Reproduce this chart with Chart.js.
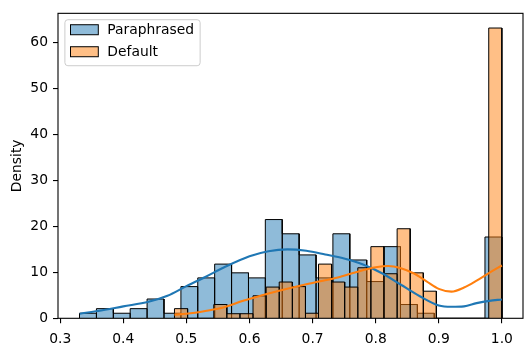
<!DOCTYPE html>
<html><head><meta charset="utf-8">
<script src="https://cdn.jsdelivr.net/npm/chart.js@4.4.0/dist/chart.umd.min.js"></script>
<style>html,body{margin:0;padding:0;background:#fff;}#wrap{width:531px;height:351px;}</style>
</head><body><div id="wrap"><canvas id="c" width="531" height="351"></canvas></div>
<script>
// ---- data ----
const seriesNames = ['Paraphrased', 'Default'];
const paraEdges = [0.3306,0.3574,0.3842,0.4109,0.4377,0.4645,0.4913,0.5180,0.5448,0.5716,0.5984,0.6251,0.6519,0.6787,0.7055,0.7322,0.7590,0.7858,0.8126,0.8393,0.8661,0.8929,0.9197,0.9464,0.9732,1.0000];
const paraHeights = [1.1,2.1,1.1,2.1,4.2,1.1,6.9,8.8,11.8,9.9,8.8,21.5,18.4,13.8,8.8,18.4,12.7,8.0,15.6,3.0,1.1,0,0,0,17.7];
const defEdges = [0.4811,0.5019,0.5226,0.5434,0.5641,0.5849,0.6056,0.6264,0.6471,0.6679,0.6887,0.7094,0.7302,0.7509,0.7717,0.7924,0.8132,0.8340,0.8547,0.8755,0.8962,0.9170,0.9377,0.9585,0.9792,1.0000];
const defHeights = [2.1,0,0,3.0,1.0,1.0,4.9,6.8,7.9,6.9,1.1,11.8,7.9,6.8,11.0,15.6,9.7,19.5,9.9,5.9,0,0,0,0,63.2];
const paraKdeX = [0.331,0.36,0.40,0.44,0.47,0.50,0.53,0.56,0.60,0.63,0.66,0.69,0.72,0.75,0.78,0.81,0.84,0.87,0.90,0.92,0.94,0.96,0.98,1.00];
const paraKdeY = [1.0,1.6,2.6,3.6,4.9,7.0,9.0,11.1,13.5,14.6,15.0,14.7,13.9,13.0,11.7,9.8,7.3,4.8,2.8,2.5,2.6,3.3,3.8,4.1];
const defKdeX = [0.481,0.50,0.53,0.56,0.59,0.62,0.65,0.68,0.71,0.74,0.77,0.80,0.82,0.84,0.86,0.88,0.90,0.92,0.94,0.96,0.98,1.00];
const defKdeY = [0.8,1.0,1.6,2.4,3.8,5.0,6.1,7.1,8.0,8.9,10.1,11.1,11.4,10.9,9.8,8.1,6.4,5.8,6.7,8.2,9.9,11.5];
const xTicks = [0.3,0.4,0.5,0.6,0.7,0.8,0.9,1.0];
const yTicks = [0,10,20,30,40,50,60];
const yLabel = 'Density';

// ---- build library structures ----
function histPoints(edges, heights) {
  const pts = [];
  for (let i = 0; i < heights.length; i++) {
    pts.push({x: edges[i], y: 0}, {x: edges[i], y: heights[i]},
             {x: edges[i + 1], y: heights[i]}, {x: edges[i + 1], y: 0});
  }
  return pts;
}
function zipXY(xs, ys) { return xs.map((x, i) => ({x: x, y: ys[i]})); }

const BLUE = '#1f77b4', ORANGE = '#ff7f0e';
const FONT = 'DejaVu Sans';
const FS = 13.89;
Chart.defaults.font.family = FONT;
Chart.defaults.font.size = FS;
Chart.defaults.color = '#000';

const spinePlugin = {
  id: 'spines',
  afterDatasetsDraw(chart) {
    const {ctx, chartArea: a} = chart;
    ctx.save();
    ctx.strokeStyle = '#000';
    ctx.lineWidth = 1.1;
    ctx.strokeRect(a.left, a.top, a.right - a.left, a.bottom - a.top);
    ctx.restore();
  }
};

const legendPlugin = {
  id: 'mplLegend',
  afterDraw(chart) {
    const {ctx, chartArea: a} = chart;
    const items = seriesNames.map(n => chart.data.datasets.find(d => d.isHist && d.label === n));
    ctx.save();
    ctx.font = FS + 'px "' + FONT + '"';
    const x0 = a.left + 6.9, y0 = a.top + 6.4;
    const rowH = 22;
    let tw = 0;
    items.forEach(d => { tw = Math.max(tw, ctx.measureText(d.label).width); });
    const textPad = 9;
    const w = 5.6 + 27.8 + textPad + tw + 6;
    const h = 46;
    const r = 3;
    ctx.beginPath();
    ctx.moveTo(x0 + r, y0);
    ctx.arcTo(x0 + w, y0, x0 + w, y0 + h, r);
    ctx.arcTo(x0 + w, y0 + h, x0, y0 + h, r);
    ctx.arcTo(x0, y0 + h, x0, y0, r);
    ctx.arcTo(x0, y0, x0 + w, y0, r);
    ctx.closePath();
    ctx.fillStyle = 'rgba(255,255,255,0.8)';
    ctx.fill();
    ctx.strokeStyle = '#cccccc';
    ctx.lineWidth = 1;
    ctx.stroke();
    items.forEach((d, i) => {
      const cy = y0 + 10 + i * rowH;
      const px = x0 + 5.6;
      ctx.fillStyle = d.backgroundColor;
      ctx.fillRect(px, cy - 5, 27.8, 10);
      ctx.strokeStyle = '#000';
      ctx.lineWidth = 1;
      ctx.strokeRect(px, cy - 5, 27.8, 10);
      ctx.fillStyle = '#000';
      ctx.textBaseline = 'middle';
      ctx.textAlign = 'left';
      ctx.fillText(d.label, px + 27.8 + textPad, cy + 1);
    });
    ctx.restore();
  }
};

const histStyle = {
  type: 'line', fill: 'origin', borderColor: '#000', borderWidth: 1,
  pointRadius: 0, tension: 0, borderJoinStyle: 'miter', isHist: true
};
const kdeStyle = {
  type: 'line', fill: false, borderWidth: 2.1, pointRadius: 0,
  cubicInterpolationMode: 'monotone'
};

new Chart(document.getElementById('c'), {
  type: 'line',
  data: {
    datasets: [
      Object.assign({}, kdeStyle, {label: seriesNames[1] + ' KDE', data: zipXY(defKdeX, defKdeY), borderColor: ORANGE, order: 0}),
      Object.assign({}, kdeStyle, {label: seriesNames[0] + ' KDE', data: zipXY(paraKdeX, paraKdeY), borderColor: BLUE, order: 1}),
      Object.assign({}, histStyle, {label: seriesNames[1], data: histPoints(defEdges, defHeights), backgroundColor: 'rgba(255,127,14,0.5)', order: 2}),
      Object.assign({}, histStyle, {label: seriesNames[0], data: histPoints(paraEdges, paraHeights), backgroundColor: 'rgba(31,119,180,0.5)', order: 3})
    ]
  },
  options: {
    responsive: false, animation: false, devicePixelRatio: 1,
    layout: {padding: {top: 10, right: 8, left: 0, bottom: 0}},
    plugins: {legend: {display: false}, tooltip: {enabled: false}},
    scales: {
      x: {
        type: 'linear', min: 0.2965, max: 1.0335,
        afterBuildTicks: s => { s.ticks = xTicks.map(v => ({value: v})); },
        afterFit: s => { s.height = 32.7; },
        ticks: {callback: v => v.toFixed(1), padding: 8, color: '#000', maxRotation: 0, autoSkip: false},
        grid: {display: true, drawOnChartArea: false, drawTicks: true, tickLength: 5, color: '#000', lineWidth: 1.1},
        border: {display: false}
      },
      y: {
        type: 'linear', min: 0, max: 66.4,
        afterBuildTicks: s => { s.ticks = yTicks.map(v => ({value: v})); },
        afterFit: s => { s.width = 58; },
        ticks: {callback: v => String(v), padding: 5, color: '#000'},
        grid: {display: true, drawOnChartArea: false, drawTicks: true, tickLength: 5, color: '#000', lineWidth: 1.1},
        border: {display: false},
        title: {display: true, text: yLabel, color: '#000', font: {size: FS, family: FONT}, padding: {top: 9, bottom: 0}}
      }
    }
  },
  plugins: [spinePlugin, legendPlugin]
});
</script></body></html>
